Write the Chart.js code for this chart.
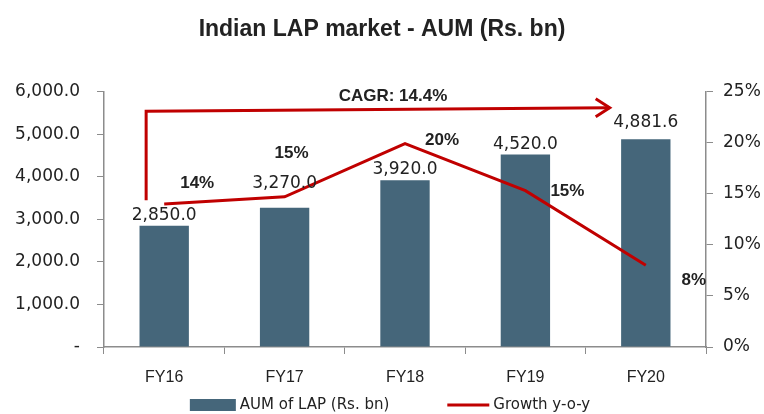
<!DOCTYPE html>
<html>
<head>
<meta charset="utf-8">
<script src="https://cdn.jsdelivr.net/npm/chart.js@4.4.1/dist/chart.umd.min.js"></script>
<style>
  html, body { margin: 0; padding: 0; background: #fff; }
  #wrap { width: 764px; height: 414px; }
</style>
</head>
<body>
<div id="wrap"><canvas id="lapChart" width="764" height="414"></canvas></div>
<script>
const years = ['FY16', 'FY17', 'FY18', 'FY19', 'FY20'];
const aum = [2850.0, 3270.0, 3920.0, 4520.0, 4881.6];
const growth = [14.0, 14.7, 19.9, 15.3, 8.0];
const aumTicks = [0, 1000, 2000, 3000, 4000, 5000, 6000];
const pctTicks = [0, 5, 10, 15, 20, 25];

const cagr = (Math.pow(aum[aum.length - 1] / aum[0], 1 / (aum.length - 1)) - 1) * 100;

const RED = '#c00000';
const BAR = '#45667a';
const AXIS = '#8c8c8c';
const TEXT = '#222222';

// label nudges so nothing collides with the growth line
const barLabelLift = [0, 14, 0, 0, 6];
const growthLabelOffset = [[33, -21], [7, -44], [37, -3], [42, 1], [48, 15]];

const fmt = v => v.toLocaleString('en-US', { minimumFractionDigits: 1, maximumFractionDigits: 1 });

const labelPlugin = {
  id: 'labelPlugin',
  afterDatasetsDraw(chart) {
    const ctx = chart.ctx;
    const x = chart.scales.x, y = chart.scales.y;
    ctx.save();

    // values on top of bars
    ctx.font = '17px "DejaVu Sans"';
    ctx.fillStyle = TEXT;
    ctx.textAlign = 'center';
    ctx.textBaseline = 'bottom';
    chart.getDatasetMeta(0).data.forEach((el, i) => {
      ctx.fillText(fmt(aum[i]), el.x, el.y - 2 - barLabelLift[i]);
    });

    // growth percentages next to the line
    ctx.font = 'bold 17px "Liberation Sans"';
    ctx.textBaseline = 'middle';
    chart.getDatasetMeta(1).data.forEach((el, i) => {
      const o = growthLabelOffset[i];
      ctx.fillText(Math.round(growth[i]) + '%', el.x + o[0], el.y + o[1]);
    });

    // CAGR bracket arrow
    const x0 = x.getPixelForValue(-0.15);
    const x1 = x.getPixelForValue(3.7);
    const yLow = y.getPixelForValue(3450);
    const yTop = y.getPixelForValue(5540);
    const yEnd = y.getPixelForValue(5620);
    ctx.strokeStyle = RED;
    ctx.lineWidth = 3;
    ctx.beginPath();
    ctx.moveTo(x0, yLow);
    ctx.lineTo(x0, yTop);
    ctx.lineTo(x1, yEnd);
    ctx.stroke();
    ctx.beginPath();
    ctx.moveTo(x1 - 14, yEnd - 9);
    ctx.lineTo(x1, yEnd);
    ctx.lineTo(x1 - 14, yEnd + 9);
    ctx.stroke();

    ctx.font = 'bold 17px "Liberation Sans"';
    ctx.fillStyle = TEXT;
    ctx.textBaseline = 'middle';
    ctx.fillText('CAGR: ' + cagr.toFixed(1) + '%', x.getPixelForValue(1.9), y.getPixelForValue(5890));
    ctx.restore();
  }
};

// legend drawn by hand so the item spacing can be wide
const bottomLegend = {
  id: 'bottomLegend',
  afterDraw(chart) {
    const ctx = chart.ctx;
    const ds = chart.data.datasets;
    const cy = 405, swBar = 46, swLine = 42, gap = 4, itemGap = 58;
    ctx.save();
    ctx.font = '15px "DejaVu Sans"';
    ctx.textBaseline = 'middle';
    ctx.textAlign = 'left';
    const w0 = ctx.measureText(ds[0].label).width;
    const w1 = ctx.measureText(ds[1].label).width;
    const total = swBar + gap + w0 + itemGap + swLine + gap + w1;
    let cx = chart.width / 2 + 8 - total / 2;

    ctx.fillStyle = ds[0].backgroundColor;
    ctx.fillRect(cx, cy - 6, swBar, 12);
    cx += swBar + gap;
    ctx.fillStyle = TEXT;
    ctx.fillText(ds[0].label, cx, cy);
    cx += w0 + itemGap;

    ctx.strokeStyle = ds[1].borderColor;
    ctx.lineWidth = 3;
    ctx.beginPath();
    ctx.moveTo(cx, cy);
    ctx.lineTo(cx + swLine, cy);
    ctx.stroke();
    cx += swLine + gap;
    ctx.fillText(ds[1].label, cx, cy);
    ctx.restore();
  }
};

new Chart(document.getElementById('lapChart'), {
  data: {
    labels: years,
    datasets: [
      {
        type: 'bar',
        label: 'AUM of LAP (Rs. bn)',
        data: aum,
        backgroundColor: BAR,
        categoryPercentage: 1,
        barPercentage: 0.41,
        yAxisID: 'y',
        order: 2
      },
      {
        type: 'line',
        label: 'Growth y-o-y',
        data: growth,
        borderColor: RED,
        backgroundColor: RED,
        borderWidth: 3,
        pointRadius: 0,
        tension: 0,
        yAxisID: 'y1',
        order: 1
      }
    ]
  },
  options: {
    responsive: false,
    animation: false,
    layout: { padding: { left: 0, right: 0, top: 0, bottom: 22 } },
    plugins: {
      title: {
        display: true,
        text: 'Indian LAP market - AUM (Rs. bn)',
        color: TEXT,
        font: { family: 'Liberation Sans', size: 23, weight: 'bold' },
        padding: { top: 16, bottom: 48 }
      },
      legend: { display: false },
      tooltip: { enabled: false }
    },
    scales: {
      x: {
        grid: { offset: true, drawOnChartArea: false, color: AXIS, tickLength: 7 },
        border: { color: AXIS, width: 1.5 },
        ticks: { color: TEXT, font: { family: 'Liberation Sans', size: 16 }, padding: 14 },
        afterFit(s) { s.height = 45; }
      },
      y: {
        position: 'left',
        min: 0,
        max: 6000,
        afterBuildTicks(s) { s.ticks = aumTicks.map(v => ({ value: v })); },
        grid: { drawOnChartArea: false, color: AXIS, tickLength: 7 },
        border: { color: AXIS, width: 1.5 },
        ticks: {
          color: TEXT,
          font: { family: 'DejaVu Sans', size: 17 },
          padding: 17,
          callback: v => v === 0 ? '-' : fmt(v)
        },
        afterFit(s) { s.width = 104; }
      },
      y1: {
        position: 'right',
        min: 0,
        max: 25,
        afterBuildTicks(s) { s.ticks = pctTicks.map(v => ({ value: v })); },
        grid: { drawOnChartArea: false, color: AXIS, tickLength: 7 },
        border: { color: AXIS, width: 1.5 },
        ticks: {
          color: TEXT,
          font: { family: 'DejaVu Sans', size: 17 },
          padding: 10,
          callback: v => v + '%'
        },
        afterFit(s) { s.width = 58; }
      }
    }
  },
  plugins: [labelPlugin, bottomLegend]
});
</script>
</body>
</html>
